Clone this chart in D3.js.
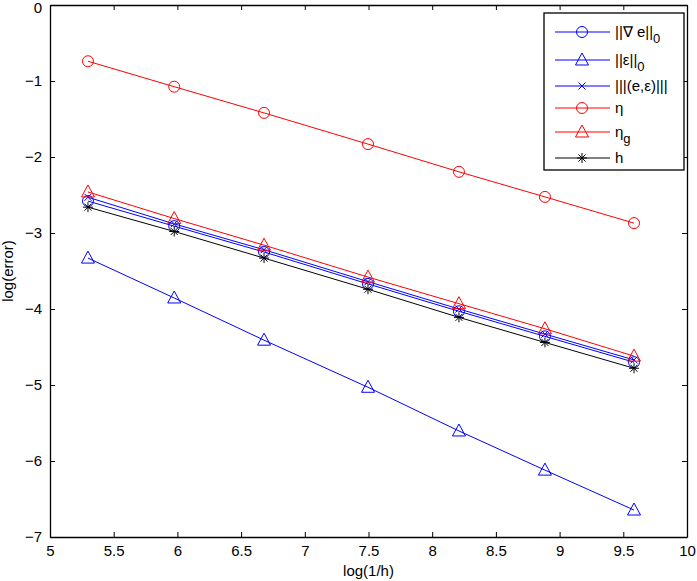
<!DOCTYPE html>
<html><head><meta charset="utf-8">
<script src="https://cdn.jsdelivr.net/npm/d3@7"></script>
<style>body{margin:0;background:#fff}svg{display:block}text{font-family:"Liberation Sans",Arial,sans-serif}</style>
</head><body><svg id="c" width="697" height="581"></svg>
<script>
const xs = [5.298, 5.975, 6.68, 7.496, 8.21, 8.885, 9.584];
const gradE = [-2.58, -2.91, -3.25, -3.67, -4.03, -4.36, -4.70];
const epsE = [-3.33, -3.855, -4.41, -5.03, -5.605, -6.12, -6.645];
const energyE = [-2.53, -2.88, -3.22, -3.64, -4.00, -4.33, -4.67];
const eta = [-0.74, -1.075, -1.42, -1.83, -2.195, -2.525, -2.87];
const etaG = [-2.46, -2.81, -3.16, -3.58, -3.93, -4.26, -4.62];
const hVals = [-2.66, -2.98, -3.33, -3.74, -4.11, -4.44, -4.78];
const xTicks = [5, 5.5, 6, 6.5, 7, 7.5, 8, 8.5, 9, 9.5, 10];
const yTicks = [0, -1, -2, -3, -4, -5, -6, -7];

const series = [
  {name:"grad", vals:gradE, color:"#0000ff", marker:"circle"},
  {name:"eps", vals:epsE, color:"#0000ff", marker:"triangle"},
  {name:"energy", vals:energyE, color:"#0000ff", marker:"x"},
  {name:"eta", vals:eta, color:"#ff0000", marker:"circle"},
  {name:"etag", vals:etaG, color:"#ff0000", marker:"triangle"},
  {name:"h", vals:hVals, color:"#000000", marker:"star"}
];

const L=50, R=687, T=5, B=537;
const svg = d3.select("#c");
const x = d3.scaleLinear().domain([5,10]).range([L,R]);
const y = d3.scaleLinear().domain([-7,0]).range([B,T]);
const fmt = d => String(d).replace("-", "\u2212");

// axes
const tl = 5;
svg.append("g").attr("transform",`translate(0,${B})`)
  .call(d3.axisBottom(x).tickValues(xTicks).tickSizeInner(-tl).tickSizeOuter(0).tickPadding(8).tickFormat(fmt));
svg.append("g").attr("transform",`translate(0,${T})`)
  .call(d3.axisTop(x).tickValues(xTicks).tickSizeInner(-tl).tickSizeOuter(0).tickFormat(""));
const yAxisG = svg.append("g").attr("transform",`translate(${L},0)`)
  .call(d3.axisLeft(y).tickValues(yTicks).tickSizeInner(-tl).tickSizeOuter(0).tickPadding(8).tickFormat(fmt));
svg.append("g").attr("transform",`translate(${R},0)`)
  .call(d3.axisRight(y).tickValues(yTicks).tickSizeInner(-tl).tickSizeOuter(0).tickFormat(""));
svg.selectAll(".domain").attr("stroke","#000").attr("stroke-width",1.3);
svg.selectAll(".tick line").attr("stroke","#000");
svg.selectAll(".tick text").attr("font-size",15).attr("fill","#000");
yAxisG.selectAll(".tick text").filter(d=>d===0).attr("dy","0.32em").attr("y",2.5);

svg.append("text").attr("x",(L+R)/2).attr("y",576).attr("text-anchor","middle").attr("font-size",15).text("log(1/h)");
svg.append("text").attr("transform",`translate(13,${(T+B)/2}) rotate(-90)`).attr("text-anchor","middle").attr("font-size",15).text("log(error)");

function drawMarker(g, type, cx, cy, color){
  if(type==="circle") g.append("circle").attr("cx",cx).attr("cy",cy).attr("r",5.5).attr("fill","none").attr("stroke",color).attr("stroke-width",1);
  else if(type==="triangle") g.append("path").attr("d",`M${cx},${cy-7}L${cx+6.5},${cy+5}L${cx-6.5},${cy+5}Z`).attr("fill","none").attr("stroke",color).attr("stroke-width",1);
  else if(type==="x") g.append("path").attr("d",`M${cx-3.5},${cy-3.5}L${cx+3.5},${cy+3.5}M${cx-3.5},${cy+3.5}L${cx+3.5},${cy-3.5}`).attr("stroke",color).attr("stroke-width",1);
  else if(type==="star"){
    const r=5;
    g.append("path").attr("d",`M${cx-r},${cy}L${cx+r},${cy}M${cx},${cy-r}L${cx},${cy+r}M${cx-r*0.7},${cy-r*0.7}L${cx+r*0.7},${cy+r*0.7}M${cx-r*0.7},${cy+r*0.7}L${cx+r*0.7},${cy-r*0.7}`).attr("stroke",color).attr("stroke-width",1);
  }
}

const line = d3.line().x((d,i)=>x(xs[i])).y(d=>y(d));
series.forEach(s=>{
  const g = svg.append("g");
  g.append("path").attr("d",line(s.vals)).attr("fill","none").attr("stroke",s.color).attr("stroke-width",1);
  s.vals.forEach((v,i)=>drawMarker(g,s.marker,x(xs[i]),y(v),s.color));
});

// legend
const lg = svg.append("g");
lg.append("rect").attr("x",544).attr("y",13).attr("width",140).attr("height",157).attr("fill","#fff").attr("stroke","#000").attr("stroke-width",1.3);
const rowsY = [32, 60, 86, 108, 132, 158];
series.forEach((s,i)=>{
  const yy = rowsY[i];
  lg.append("line").attr("x1",555).attr("x2",610).attr("y1",yy).attr("y2",yy).attr("stroke",s.color).attr("stroke-width",1);
  drawMarker(lg,s.marker,582,yy,s.color);
});
const fs=15;
function ltext(i, main, sub){
  const t = lg.append("text").attr("x",615).attr("y",rowsY[i]+5).attr("font-size",fs).attr("fill","#000");
  t.append("tspan").text(main);
  if(sub) t.append("tspan").attr("dy",6).attr("font-size",13).text(sub);
}
ltext(0,"||\u2207 e||","0");
ltext(1,"||\u03b5||","0");
ltext(2,"|||(e,\u03b5)|||");
ltext(3,"\u03b7");
ltext(4,"\u03b7","g");
ltext(5,"h");
</script></body></html>
